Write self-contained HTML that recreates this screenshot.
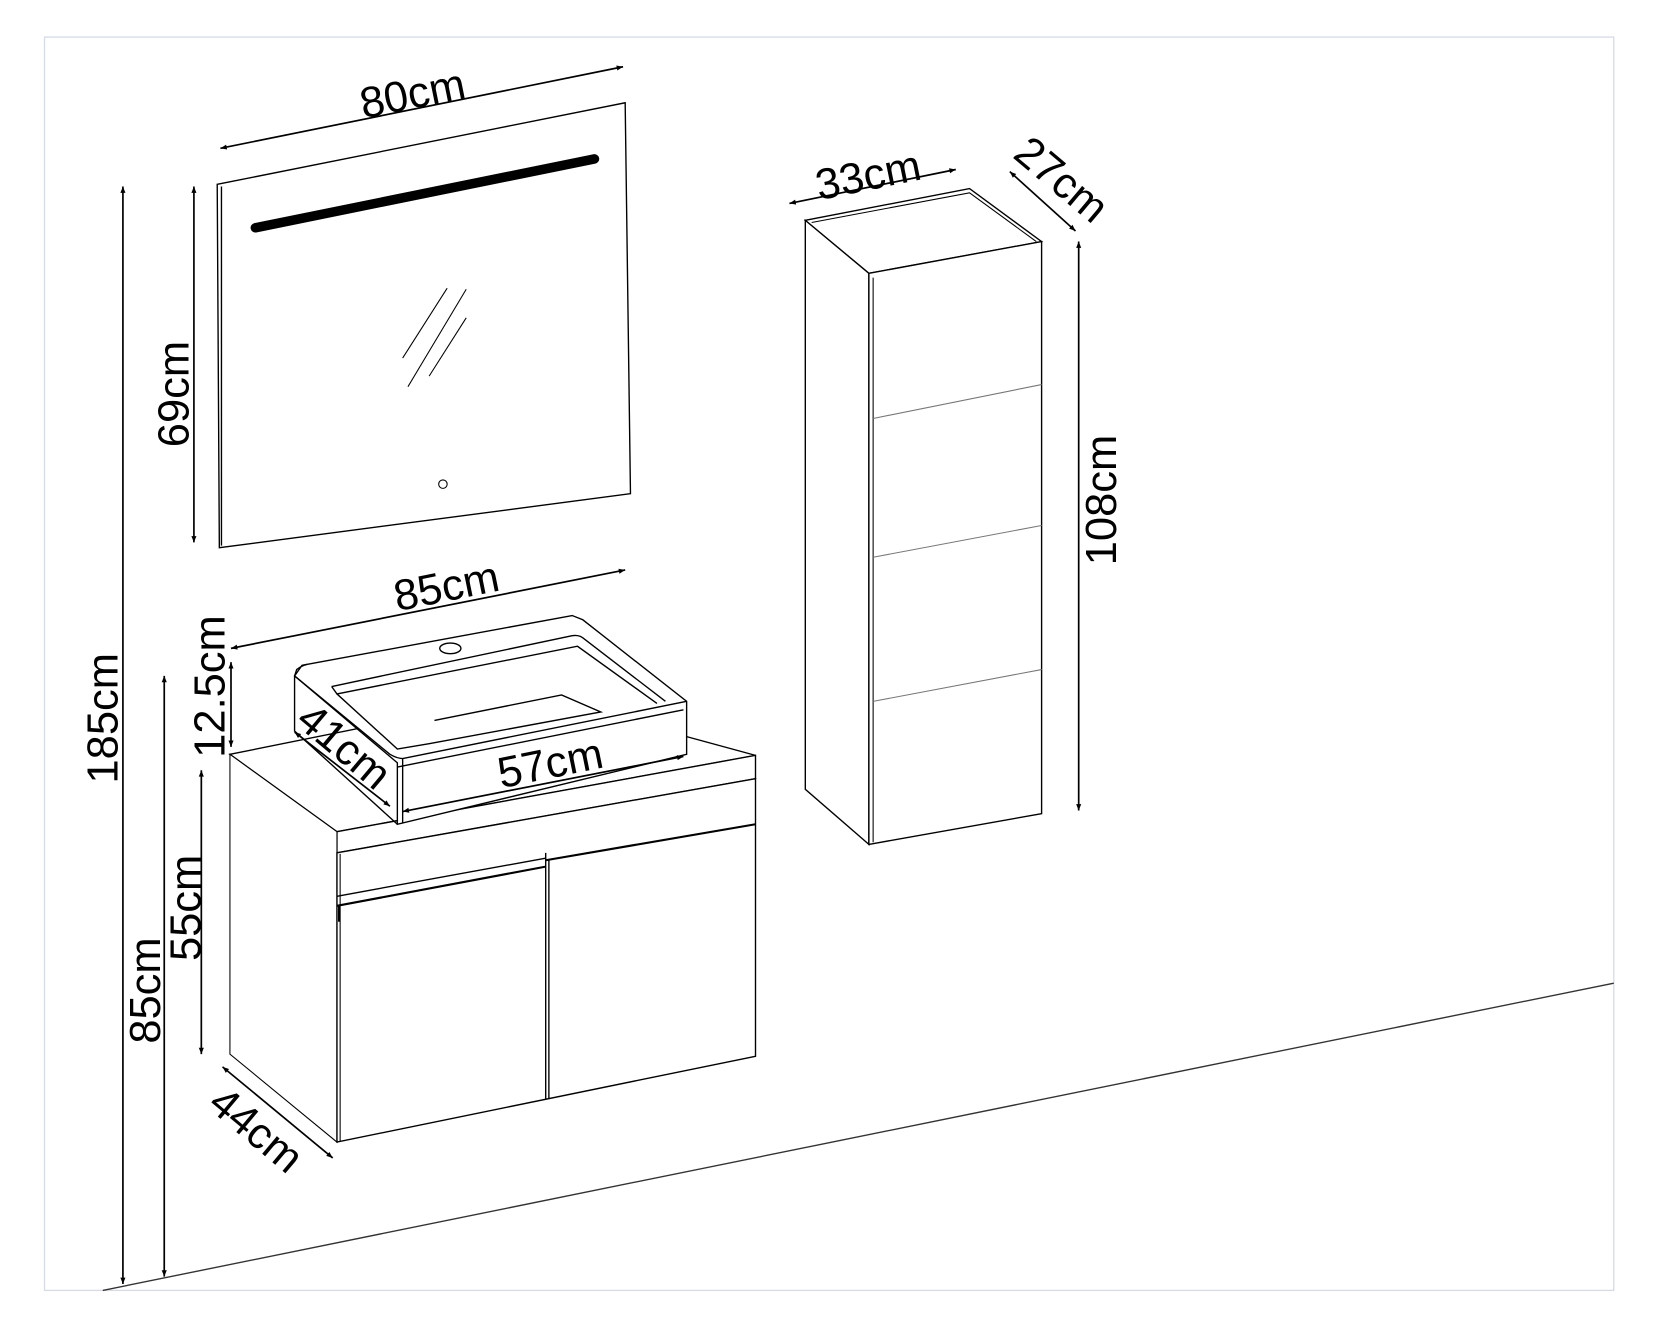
<!DOCTYPE html>
<html><head><meta charset="utf-8"><style>
html,body{margin:0;padding:0;background:#fff;}
svg{display:block;}
text{font-family:"Liberation Sans",sans-serif;font-size:41px;fill:#000;}
</style></head><body>
<svg width="1653" height="1319" viewBox="0 0 1560 1245" preserveAspectRatio="none" xmlns="http://www.w3.org/2000/svg">
<defs>
<marker id="a" viewBox="0 0 10 10" refX="10" refY="5" markerWidth="9" markerHeight="6" orient="auto-start-reverse" markerUnits="userSpaceOnUse"><path d="M0,1 L10,5 L0,9 z" fill="#000"/></marker>
</defs>
<rect x="42" y="35" width="1481" height="1183" fill="none" stroke="#d4dae8" stroke-width="1.2"/>
<line x1="97" y1="1218" x2="1523" y2="928" stroke="#333" stroke-width="1.3"/>

<g fill="none" stroke="#000" stroke-width="1.3">
<!-- mirror -->
<polygon points="205,174 590,97 595,466 207,517" fill="#fff"/>
<polyline points="209,176 209,515"/>
<line x1="241" y1="215" x2="561" y2="150" stroke-width="9" stroke-linecap="round"/>
<line x1="380" y1="338" x2="422" y2="272" stroke-width="1"/>
<line x1="385" y1="365" x2="440" y2="273" stroke-width="1"/>
<line x1="405" y1="355" x2="440" y2="300" stroke-width="1"/>
<circle cx="418" cy="457" r="4" stroke-width="1"/>

<!-- vanity -->
<polygon points="217,712 500,655 713,713 318,785" fill="#fff"/>
<polygon points="318,785 713,713 713,735 318,805" fill="#fff"/>
<polygon points="217,712 318,785 318,1078 217,995" fill="#fff" stroke-width="1"/>
<polygon points="318,805 713,735 713,997 318,1078" fill="#fff"/>
<line x1="321" y1="806" x2="321" y2="1077" stroke-width="1"/>
<line x1="318" y1="846" x2="515" y2="810"/>
<line x1="318" y1="855" x2="515" y2="818" stroke-width="2"/>
<line x1="515" y1="812" x2="713" y2="778" stroke-width="2"/>
<line x1="515" y1="805" x2="515" y2="1037"/>
<line x1="518" y1="812" x2="518" y2="1037"/>
<line x1="320" y1="855" x2="320" y2="870" stroke-width="2"/>

<!-- basin -->
<polygon points="285,628 540,581 550,585 648,662 648,712 375,778 375,720 278,638" fill="#fff"/>
<path d="M278,638 L280,632 Q285,628 290,627"/>
<polyline points="278,638 278,690 375,778"/>
<path d="M278,638 L368,712 Q375,716 380,716 L648,662"/>
<polyline points="380,716 380,777"/>
<polyline points="375,724 645,670"/>
<path d="M313,648 L540,600 Q546,599 550,602 L628,662"/>
<path d="M313,648 L318,655 L545,610 L620,664"/>
<path d="M318,655 L375,707 L405,702 L567,672 L530,656 L410,680"/>
<ellipse cx="425" cy="612" rx="10" ry="5"/>
</g>

<!-- tall cabinet -->
<g fill="#fff" stroke="#000" stroke-width="1.3">
<polygon points="760,208 915,178 983,228 820,258"/>
<polygon points="760,208 820,258 820,797 760,745"/>
<polygon points="820,258 983,228 983,768 820,797"/>
<polyline points="824,262 824,795" fill="none" stroke-width="1"/>
<polyline points="766,210 915,182 978,228" fill="none" stroke-width="1"/>
</g>
<g stroke="#777" stroke-width="1" fill="none">
<line x1="824" y1="395" x2="983" y2="363"/>
<line x1="824" y1="526" x2="983" y2="496"/>
<line x1="824" y1="662" x2="983" y2="632"/>
</g>

<!-- dimension lines -->
<g stroke="#000" stroke-width="1.6" fill="none" marker-start="url(#a)" marker-end="url(#a)">
<line x1="208" y1="140" x2="588" y2="63"/>
<line x1="183" y1="176" x2="183" y2="512"/>
<line x1="116" y1="176" x2="116" y2="1212"/>
<line x1="155" y1="638" x2="155" y2="1205"/>
<line x1="190" y1="727" x2="190" y2="995"/>
<line x1="218" y1="625" x2="218" y2="705"/>
<line x1="218" y1="612" x2="590" y2="538"/>
<line x1="278" y1="691" x2="368" y2="761"/>
<line x1="380" y1="766" x2="645" y2="714"/>
<line x1="210" y1="1007" x2="314" y2="1093"/>
<line x1="745" y1="192" x2="902" y2="160"/>
<line x1="953" y1="162" x2="1015" y2="218"/>
<line x1="1018" y1="228" x2="1018" y2="765"/>
</g>

<!-- labels -->
<text transform="translate(392,102) rotate(-11.5)" text-anchor="middle">80cm</text>
<text transform="translate(178,372) rotate(-90)" text-anchor="middle">69cm</text>
<text transform="translate(111,678) rotate(-90)" text-anchor="middle">185cm</text>
<text transform="translate(151,935) rotate(-90)" text-anchor="middle">85cm</text>
<text transform="translate(189,857) rotate(-90)" text-anchor="middle">55cm</text>
<text transform="translate(212,648) rotate(-90)" text-anchor="middle">12.5cm</text>
<text transform="translate(424,567) rotate(-11.5)" text-anchor="middle">85cm</text>
<text transform="translate(316,715) rotate(40)" text-anchor="middle">41cm</text>
<text transform="translate(522,734) rotate(-11.5)" text-anchor="middle">57cm</text>
<text transform="translate(233,1077) rotate(40)" text-anchor="middle">44cm</text>
<text transform="translate(822,179) rotate(-11.5)" text-anchor="middle">33cm</text>
<text transform="translate(993,180) rotate(40)" text-anchor="middle">27cm</text>
<text transform="translate(1053,472) rotate(-90)" text-anchor="middle">108cm</text>
</svg>
</body></html>
